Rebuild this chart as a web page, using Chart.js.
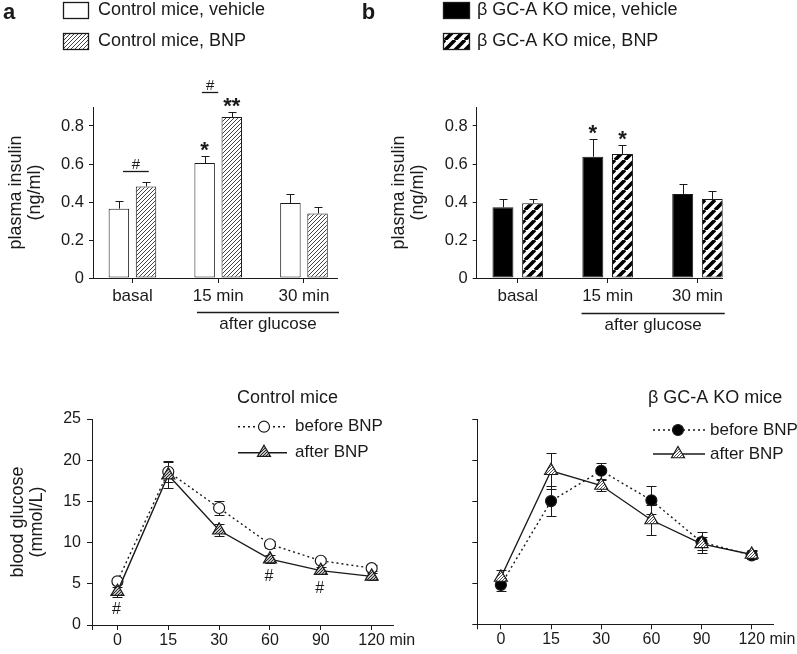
<!DOCTYPE html>
<html lang="en">
<head>
<meta charset="UTF-8">
<title>Plasma insulin and blood glucose, control vs GC-A KO mice</title>
<script src="https://cdn.jsdelivr.net/npm/chart.js"></script>
<style>
  body { margin: 0; background: #fff; }
  #wrap { position: relative; width: 797px; height: 654px; overflow: hidden; background: #fff; }
  canvas { position: absolute; }
  #chartA { left: 0; top: 0; }
  #chartB { left: 355px; top: 0; }
  #chartC { left: 0; top: 335px; }
  #chartD { left: 400px; top: 335px; }
</style>
</head>
<body>
<div id="wrap">
  <canvas id="chartA" width="400" height="335"></canvas>
  <canvas id="chartB" width="442" height="335"></canvas>
  <canvas id="chartC" width="420" height="319"></canvas>
  <canvas id="chartD" width="397" height="319"></canvas>
</div>
<script>
const FONT = '"Liberation Sans", Arial, Helvetica, sans-serif';
const INK = '#1a1a1a';
Chart.defaults.font.family = FONT;
Chart.defaults.color = INK;

// plasma insulin (ng/ml), mean and SEM
const insulinGroups = ['basal', '15 min', '30 min'];
const insulinTicks = [0, 0.1, 0.2, 0.3, 0.4, 0.5, 0.6, 0.7, 0.8];
const ctlVehicle = [0.365, 0.605, 0.395];
const ctlVehicleErr = [0.038, 0.037, 0.045];
const ctlBnp = [0.482, 0.847, 0.34];
const ctlBnpErr = [0.025, 0.028, 0.035];
const koVehicle = [0.372, 0.638, 0.442];
const koVehicleErr = [0.044, 0.096, 0.052];
const koBnp = [0.393, 0.652, 0.416];
const koBnpErr = [0.022, 0.047, 0.042];

// blood glucose (mmol/L), mean and SEM
const timeLabels = ['0', '15', '30', '60', '90', '120'];
const ctlBefore = [5.3, 18.6, 14.2, 9.8, 7.8, 6.9];
const ctlBeforeErr = [0.3, 1.3, 0.9, 0.4, 0.3, 0.4];
const ctlAfter = [4.05, 18.2, 11.5, 8.0, 6.6, 5.9];
const ctlAfterErr = [0.6, 1.6, 0.7, 0.5, 0.4, 0.4];
const koBefore = [4.8, 15.0, 18.7, 15.1, 10.0, 8.4];
const koBeforeErr = [0.8, 1.85, 1.0, 1.7, 1.3, 0.5];
const koAfter = [5.7, 18.7, 16.9, 12.7, 9.8, 8.5];
const koAfterErr = [0.9, 2.2, 0.7, 1.8, 0.8, 0.6];

const toXY = vals => vals.map((v, i) => ({ x: i, y: v }));

function hatch(bg, fg, size, width) {
  const c = document.createElement('canvas');
  c.width = c.height = size;
  const g = c.getContext('2d');
  g.fillStyle = bg;
  g.fillRect(0, 0, size, size);
  g.strokeStyle = fg;
  g.lineWidth = width;
  g.beginPath();
  for (const k of [-size, 0, size]) {
    g.moveTo(k, size);
    g.lineTo(k + size, 0);
  }
  g.stroke();
  return g.createPattern(c, 'repeat');
}

function marker(ctx, style, x, y, r, fill, stroke, lw) {
  ctx.beginPath();
  if (style === 'triangle') {
    for (let k = 0; k < 3; k++) {
      const a = k * 2 * Math.PI / 3;
      ctx[k ? 'lineTo' : 'moveTo'](x + Math.sin(a) * r, y - Math.cos(a) * r);
    }
    ctx.closePath();
  } else {
    ctx.arc(x, y, r, 0, Math.PI * 2);
  }
  ctx.fillStyle = fill;
  ctx.fill();
  ctx.lineWidth = lw;
  ctx.strokeStyle = stroke;
  ctx.stroke();
}

// SEM whiskers: bars get the upper half only, lines get both ends
function drawErrors(chart, o) {
  const ctx = chart.ctx, ys = chart.scales.y;
  ctx.save();
  ctx.strokeStyle = INK;
  ctx.lineWidth = 1;
  chart.data.datasets.forEach((ds, di) => {
    if (!ds.errors) return;
    chart.getDatasetMeta(di).data.forEach((el, i) => {
      const v = ds.data[i].y, e = ds.errors[i];
      const x = Math.round(el.x) + 0.5;
      const top = Math.round(ys.getPixelForValue(v + e)) + 0.5;
      const bot = o.both ? Math.round(ys.getPixelForValue(v - e)) + 0.5 : el.y;
      ctx.beginPath();
      ctx.moveTo(x, top); ctx.lineTo(x, bot);
      ctx.moveTo(x - o.cap, top); ctx.lineTo(x + o.cap, top);
      if (o.both) { ctx.moveTo(x - o.cap, bot); ctx.lineTo(x + o.cap, bot); }
      ctx.stroke();
    });
  });
  ctx.restore();
}
const errorBars = {
  id: 'errorBars',
  beforeDatasetsDraw(chart, args, o) { if (o.both) drawErrors(chart, o); },
  afterDatasetsDraw(chart, args, o) { if (!o.both) drawErrors(chart, o); }
};

const boxLegend = {
  id: 'boxLegend',
  afterDraw(chart, args, o) {
    const ctx = chart.ctx;
    ctx.save();
    ctx.textAlign = 'left';
    ctx.textBaseline = 'middle';
    chart.data.datasets.forEach((ds, i) => {
      const y = o.y + i * o.gap;
      ctx.fillStyle = ds.backgroundColor;
      ctx.fillRect(o.x, y, o.w, o.h);
      ctx.strokeStyle = INK;
      ctx.lineWidth = 1.3;
      ctx.strokeRect(o.x + 0.5, y + 0.5, o.w - 1, o.h - 1);
      ctx.fillStyle = INK;
      ctx.font = '18px ' + FONT;
      ctx.fillText(ds.label, o.textX, y + o.h / 2);
    });
    ctx.textBaseline = 'alphabetic';
    ctx.font = 'bold 22px ' + FONT;
    ctx.fillText(o.tag, o.tagX, o.tagY);
    ctx.restore();
  }
};

const barNotes = {
  id: 'barNotes',
  afterDraw(chart, args, o) {
    const ctx = chart.ctx, xs = chart.scales.x, ys = chart.scales.y;
    const whiskerTop = (di, i) => {
      const ds = chart.data.datasets[di];
      return ys.getPixelForValue(ds.data[i].y + ds.errors[i]);
    };
    ctx.save();
    ctx.fillStyle = INK;
    ctx.strokeStyle = INK;
    ctx.textAlign = 'center';
    ctx.textBaseline = 'alphabetic';
    ctx.font = 'bold 22px ' + FONT;
    (o.stars || []).forEach(s => {
      const el = chart.getDatasetMeta(s.ds).data[s.i];
      ctx.fillText(s.text, el.x, whiskerTop(s.ds, s.i) + 1);
    });
    ctx.font = '15px ' + FONT;
    ctx.lineWidth = 1.3;
    (o.brackets || []).forEach(b => {
      const top = Math.min(whiskerTop(0, b.i), whiskerTop(1, b.i));
      const ly = Math.round(top - b.gap) + 0.5;
      const x1 = xs.getPixelForValue(b.i + b.from), x2 = xs.getPixelForValue(b.i + b.to);
      ctx.beginPath(); ctx.moveTo(x1, ly); ctx.lineTo(x2, ly); ctx.stroke();
      ctx.fillText('#', (x1 + x2) / 2, ly - 3);
    });
    if (o.span) {
      const x1 = xs.getPixelForValue(o.span.from), x2 = xs.right + 2;
      const ly = Math.round(xs.top + o.span.drop) + 0.5;
      ctx.beginPath(); ctx.moveTo(x1, ly); ctx.lineTo(x2, ly); ctx.stroke();
      ctx.font = '17px ' + FONT;
      ctx.textBaseline = 'top';
      ctx.fillText(o.span.text, (x1 + x2) / 2, ly + 3);
    }
    ctx.restore();
  }
};

const lineLegend = {
  id: 'lineLegend',
  afterDraw(chart, args, o) {
    const ctx = chart.ctx;
    ctx.save();
    ctx.fillStyle = INK;
    ctx.textAlign = 'left';
    ctx.textBaseline = 'middle';
    ctx.font = '18px ' + FONT;
    ctx.fillText(o.title, o.x, o.y);
    chart.data.datasets.forEach((ds, i) => {
      const y = o.y + o.first + i * o.gap;
      ctx.strokeStyle = ds.borderColor;
      ctx.lineWidth = ds.borderWidth;
      ctx.setLineDash(ds.borderDash || []);
      ctx.beginPath(); ctx.moveTo(o.x + o.lineFrom, y); ctx.lineTo(o.x + o.lineTo, y); ctx.stroke();
      ctx.setLineDash([]);
      marker(ctx, ds.pointStyle, o.x + o.markX, y, ds.pointRadius, ds.pointBackgroundColor, ds.pointBorderColor, ds.pointBorderWidth);
      ctx.fillStyle = INK;
      ctx.font = '17px ' + FONT;
      ctx.fillText(ds.label, o.x + o.textX, y);
    });
    // '#' marks below the after-BNP points
    ctx.textAlign = 'center';
    ctx.textBaseline = 'alphabetic';
    ctx.font = '16px ' + FONT;
    (o.marks || []).forEach(i => {
      const el = chart.getDatasetMeta(1).data[i];
      ctx.fillText('#', el.x - 1, el.y + o.markDrop);
    });
    // unit after the last time label
    const xs = chart.scales.x, items = xs.getLabelItems(), last = items[items.length - 1];
    ctx.font = last.font.string;
    ctx.textAlign = 'left';
    ctx.textBaseline = last.options.textBaseline;
    const w = ctx.measureText(last.label).width;
    ctx.fillText(' min', last.options.translation[0] + w / 2, last.options.translation[1] + last.textOffset);
    ctx.restore();
  }
};

function insulinChart(id, sets, o) {
  return new Chart(document.getElementById(id), {
    type: 'bar',
    data: { datasets: sets },
    options: {
      responsive: false, animation: false, events: [],
      layout: { padding: { top: 107, right: o.padRight, left: 0, bottom: 0 } },
      datasets: { bar: { categoryPercentage: o.cat, barPercentage: o.bar, borderSkipped: false, borderWidth: 1, borderColor: INK } },
      scales: {
        x: {
          type: 'linear', min: o.xMin, max: o.xMax, offset: false,
          afterBuildTicks: s => { s.ticks = insulinGroups.map((g, i) => ({ value: i })); },
          afterFit: s => { s.height = 57; },
          border: { color: INK, width: 1 },
          grid: { offset: false, drawOnChartArea: false, tickLength: 5, color: INK },
          ticks: { autoSkip: false, maxRotation: 0, padding: 3, color: INK, font: { size: 17 }, callback: v => insulinGroups[v] }
        },
        y: {
          min: 0, max: 0.9,
          afterBuildTicks: s => { s.ticks = insulinTicks.map(v => ({ value: v })); },
          afterFit: s => { s.width = o.yWidth; },
          border: { color: INK, width: 1 },
          grid: { drawOnChartArea: false, tickLength: 4, color: INK },
          ticks: {
            padding: 5, color: INK, font: { size: 16.5 },
            callback: v => { const t = Math.round(v * 10); return t % 2 ? '' : (t === 0 ? '0' : (t / 10).toFixed(1)); }
          },
          title: { display: true, text: ['plasma insulin', '(ng/ml)'], color: INK, font: { size: 18, lineHeight: 1.05 }, padding: { top: o.titlePad, bottom: 0 } }
        }
      },
      plugins: {
        legend: { display: false }, tooltip: { enabled: false },
        errorBars: { both: false, cap: 4 },
        boxLegend: o.legend,
        barNotes: o.notes
      }
    },
    plugins: [errorBars, boxLegend, barNotes]
  });
}

function glucoseChart(id, sets, o) {
  return new Chart(document.getElementById(id), {
    type: 'line',
    data: { datasets: sets },
    options: {
      responsive: false, animation: false, events: [],
      layout: { padding: { top: 84, right: o.padRight, left: 0, bottom: 0 } },
      scales: {
        x: {
          type: 'linear', min: o.xMin, max: o.xMax, offset: false,
          afterBuildTicks: s => { s.ticks = [{ value: o.xMin }].concat(timeLabels.map((t, i) => ({ value: i }))); },
          afterFit: s => { s.height = o.xHeight; },
          border: { color: INK, width: 1 },
          grid: { offset: false, drawOnChartArea: false, tickLength: 5, color: INK },
          ticks: { autoSkip: false, maxRotation: 0, padding: 1, color: INK, font: { size: 16 }, callback: v => Number.isInteger(v) ? timeLabels[v] : '' }
        },
        y: {
          min: 0, max: 25,
          afterFit: s => { s.width = o.yWidth; },
          border: { color: INK, width: 1 },
          grid: { drawOnChartArea: false, tickLength: 5, color: INK },
          ticks: { display: o.yLabels, stepSize: 5, padding: 6, color: INK, font: { size: 16 } },
          title: { display: o.yLabels, text: ['blood glucose', '(mmol/L)'], color: INK, font: { size: 18, lineHeight: 1.05 }, padding: { top: 9, bottom: 0 } }
        }
      },
      plugins: {
        legend: { display: false }, tooltip: { enabled: false },
        errorBars: { both: true, cap: 5 },
        lineLegend: o.legend
      }
    },
    plugins: [errorBars, lineLegend]
  });
}

const fineHatch = hatch('#ffffff', '#444444', 4, 1);
const boldStripe = hatch('#ffffff', '#000000', 10, 3.6);
const triDark = hatch('#c0c0c0', '#2a2a2a', 3, 1);
const triLight = hatch('#ffffff', '#555555', 3, 1);

insulinChart('chartA', [
  { label: 'Control mice, vehicle', data: toXY(ctlVehicle), errors: ctlVehicleErr, backgroundColor: '#ffffff' },
  { label: 'Control mice, BNP', data: toXY(ctlBnp), errors: ctlBnpErr, backgroundColor: fineHatch }
], {
  padRight: 63, yWidth: 93, titlePad: 7, xMin: -0.46, xMax: 2.385, cat: 0.633, bar: 0.754,
  legend: { x: 63, y: 2, w: 26, h: 17, gap: 31, textX: 98, tag: 'a', tagX: 3, tagY: 18.5 },
  notes: {
    stars: [{ ds: 0, i: 1, text: '*' }, { ds: 1, i: 1, text: '**' }],
    brackets: [{ i: 0, from: -0.11, to: 0.19, gap: 10.5 }, { i: 1, from: -0.19, to: 0, gap: 20 }],
    span: { from: 0.752, drop: 34, text: 'after glucose' }
  }
});

insulinChart('chartB', [
  { label: '\u03B2 GC-A KO mice, vehicle', data: toXY(koVehicle), errors: koVehicleErr, backgroundColor: '#000000' },
  { label: '\u03B2 GC-A KO mice, BNP', data: toXY(koBnp), errors: koBnpErr, backgroundColor: boldStripe }
], {
  padRight: 74.3, yWidth: 121.7, titlePad: 35, xMin: -0.457, xMax: 2.28, cat: 0.66, bar: 0.707,
  legend: { x: 88, y: 2, w: 27, h: 17, gap: 31, textX: 122, tag: 'b', tagX: 6.7, tagY: 18.5 },
  notes: {
    stars: [{ ds: 0, i: 1, text: '*' }, { ds: 1, i: 1, text: '*' }],
    span: { from: 0.71, drop: 35, text: 'after glucose' }
  }
});

glucoseChart('chartC', [
  { label: 'before BNP', data: toXY(ctlBefore), errors: ctlBeforeErr, order: 1, borderColor: INK, borderWidth: 1.4, borderDash: [2, 3],
    pointStyle: 'circle', pointRadius: 5.5, pointBackgroundColor: '#ffffff', pointBorderColor: INK, pointBorderWidth: 1.2, tension: 0 },
  { label: 'after BNP', data: toXY(ctlAfter), errors: ctlAfterErr, order: 0, borderColor: INK, borderWidth: 1.4,
    pointStyle: 'triangle', pointRadius: 7.5, pointBackgroundColor: triDark, pointBorderColor: INK, pointBorderWidth: 1.2, tension: 0 }
], {
  padRight: 27, yWidth: 92, xHeight: 29, xMin: -0.5, xMax: 5.42, yLabels: true,
  legend: { title: 'Control mice', x: 237, y: 63, first: 28.7, gap: 26, lineFrom: 1, lineTo: 50, markX: 27, textX: 58, marks: [0, 3, 4], markDrop: 22 }
});

glucoseChart('chartD', [
  { label: 'before BNP', data: toXY(koBefore), errors: koBeforeErr, order: 1, borderColor: INK, borderWidth: 1.4, borderDash: [2, 3],
    pointStyle: 'circle', pointRadius: 5.5, pointBackgroundColor: '#000000', pointBorderColor: INK, pointBorderWidth: 1.2, tension: 0 },
  { label: 'after BNP', data: toXY(koAfter), errors: koAfterErr, order: 0, borderColor: INK, borderWidth: 1.4,
    pointStyle: 'triangle', pointRadius: 7.5, pointBackgroundColor: triLight, pointBorderColor: INK, pointBorderWidth: 1.2, tension: 0 }
], {
  padRight: 23.7, yWidth: 77.3, xHeight: 29.7, xMin: -0.47, xMax: 5.43, yLabels: false,
  legend: { title: '\u03B2 GC-A KO mice', x: 248, y: 63, first: 32, gap: 24, lineFrom: 5, lineTo: 57, markX: 30, textX: 62, marks: [], markDrop: 22 }
});
</script>
</body>
</html>
